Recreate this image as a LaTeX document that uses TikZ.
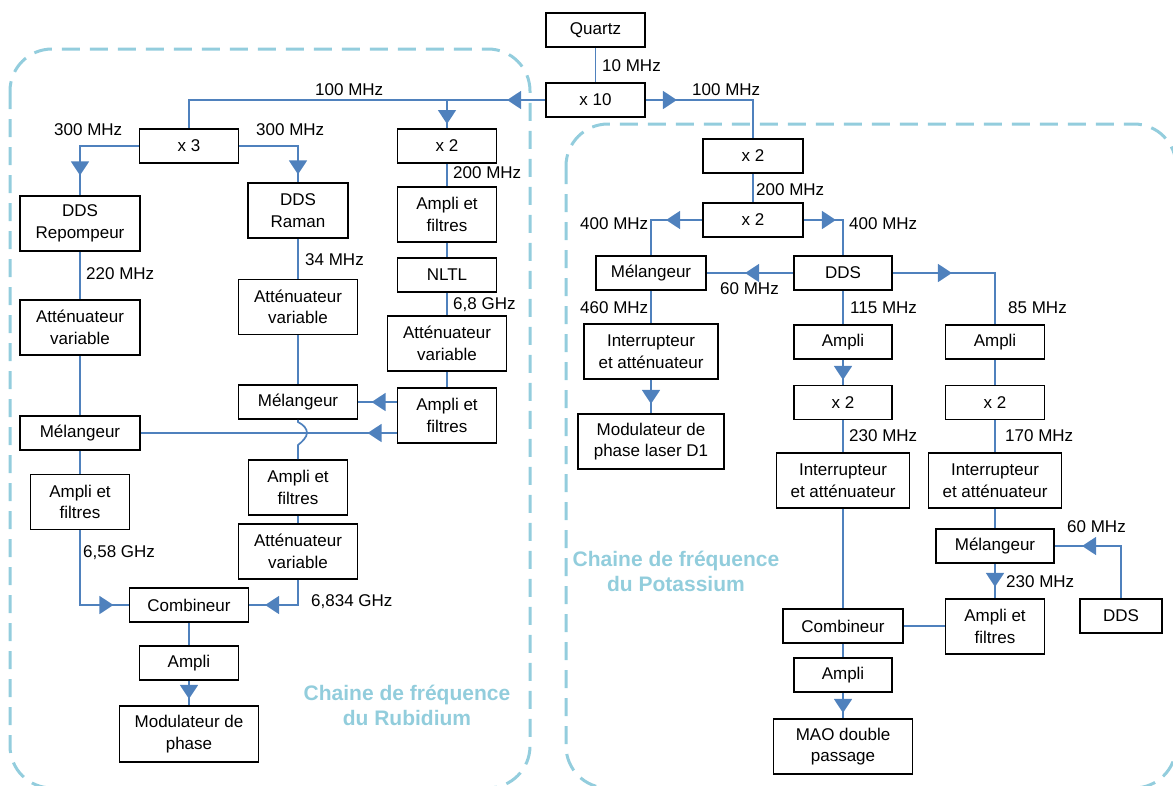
\documentclass[tikz,border=0pt]{standalone}
\usepackage{fontspec}
\setmainfont{Liberation Sans}
\usetikzlibrary{arrows.meta,decorations.markings,calc}
\definecolor{conncol}{RGB}{79,129,189}
\definecolor{dashcol}{RGB}{147,205,221}
\definecolor{titlecol}{RGB}{146,205,220}
\begin{document}
\begin{tikzpicture}[x=1pt,y=-1pt,
  blk/.style={draw=black, line width=1.8pt, align=center, inner sep=0pt, font=\fontsize{17}{21.5}\selectfont, fill=white},
  sz/.style 2 args={minimum width=#1pt, minimum height=#2pt},
  conn/.style={draw=conncol, line width=1.7pt},
  arrowat/.style={postaction={decorate}, decoration={markings, mark=at position #1 with {\arrow[conncol]{Triangle[width=18pt,length=14pt]}}}},
  lbl/.style={font=\fontsize{17}{21}\selectfont, inner sep=0pt, anchor=west},
  ttl/.style={font=\fontsize{21}{25}\selectfont\bfseries, text=titlecol, align=center, inner sep=0pt},
  grp/.style={draw=dashcol, line width=3pt, dash pattern=on 18pt off 10pt, rounded corners=42pt}
]
\useasboundingbox (0,0) rectangle (1173,785);
\clip (0,0) rectangle (1173,785);
% groups
\draw[grp] (10,49) rectangle (530,788);
\draw[grp] (566,124) rectangle (1176,788);
\node[ttl] (tRb) at (407,705) {Chaine de fréquence\\du Rubidium};
\node[ttl] (tK) at (676,571) {Chaine de fréquence\\du Potassium};
% top
\node[blk, sz={99}{34}] (quartz) at (595.5,30) {Quartz};
\node[blk, sz={99}{34}] (x10) at (595.5,100) {x 10};
% Rubidium
\node[blk, sz={99}{34}] (x3) at (189,146) {x 3};
\node[blk, sz={99}{34}] (x2a) at (447,146) {x 2};
\node[blk, sz={120}{55}] (drep) at (80,223.5) {DDS\\Repompeur};
\node[blk, sz={100}{55}] (draman) at (298,210.5) {DDS\\Raman};
\node[blk, sz={99}{55}] (afA) at (447,214.5) {Ampli et\\filtres};
\node[blk, sz={99}{34}] (nltl) at (447,275) {NLTL};
\node[blk, sz={119}{55}] (attR) at (447,343.5) {Atténuateur\\variable};
\node[blk, sz={99}{55}] (afB) at (447,415.5) {Ampli et\\filtres};
\node[blk, sz={120}{55}] (attL) at (80,327.5) {Atténuateur\\variable};
\node[blk, sz={119}{55}] (attM) at (298,307) {Atténuateur\\variable};
\node[blk, sz={119}{34}] (melB) at (298,402) {Mélangeur};
\node[blk, sz={120}{34}] (melA) at (80,433) {Mélangeur};
\node[blk, sz={99}{55}] (afL) at (80,502) {Ampli et\\filtres};
\node[blk, sz={99}{55}] (afM) at (298,487.5) {Ampli et\\filtres};
\node[blk, sz={119}{55}] (attML) at (298,551.5) {Atténuateur\\variable};
\node[blk, sz={119}{34}] (comb) at (189,605) {Combineur};
\node[blk, sz={99}{34}] (ampRb) at (189,663) {Ampli};
\node[blk, sz={139}{56}] (modph) at (189,734) {Modulateur de\\phase};
% Potassium
\node[blk, sz={100}{34}] (x2k) at (753,156) {x 2};
\node[blk, sz={100}{34}] (x2k2) at (753,220) {x 2};
\node[blk, sz={110}{34}] (melK) at (651,273) {Mélangeur};
\node[blk, sz={98}{34}] (ddsK) at (843,273) {DDS};
\node[blk, sz={134}{55}] (intL) at (651,351.5) {Interrupteur\\et atténuateur};
\node[blk, sz={146}{55}] (modD1) at (651,441.5) {Modulateur de\\phase laser D1};
\node[blk, sz={98}{34}] (ampMK) at (843,342) {Ampli};
\node[blk, sz={98}{34}] (x2mK) at (843,402.5) {x 2};
\node[blk, sz={133}{55}] (intM) at (843,480.5) {Interrupteur\\et atténuateur};
\node[blk, sz={99}{34}] (ampR) at (995,342) {Ampli};
\node[blk, sz={99}{34}] (x2R) at (995,402.5) {x 2};
\node[blk, sz={133}{55}] (intR) at (995,480.5) {Interrupteur\\et atténuateur};
\node[blk, sz={118}{34}] (melR) at (995,546) {Mélangeur};
\node[blk, sz={99}{55}] (afR) at (995,626.5) {Ampli et\\filtres};
\node[blk, sz={82}{34}] (ddsR) at (1121,616) {DDS};
\node[blk, sz={120}{34}] (combK) at (843,626) {Combineur};
\node[blk, sz={98}{34}] (ampK) at (843,675) {Ampli};
\node[blk, sz={139}{55}] (mao) at (843,746.5) {MAO double\\passage};
% connectors top
\draw[conn] (quartz) -- (x10);
\draw[conn, arrowat=38pt] (x10.west) -| (x3.north);
\coordinate (j1) at (447,100);
\draw[conn, arrowat=24pt] (j1) -- (x2a.north);
\draw[conn, arrowat=31pt] (x10.east) -| (x2k.north);
% Rubidium connectors
\draw[conn, arrowat=88pt] (x3.west) -| (drep.north);
\draw[conn, arrowat=87pt] (x3.east) -| (draman.north);
\draw[conn] (x2a) -- (afA);
\draw[conn] (afA) -- (nltl);
\draw[conn] (nltl) -- (attR);
\draw[conn] (attR) -- (afB);
\draw[conn, arrowat=25pt] (afB.west |- melB.east) -- (melB.east);
\draw[conn, arrowat=29pt] (afB.west |- melA.east) -- (melA.east);
\draw[conn] (drep) -- (attL);
\draw[conn] (attL) -- (melA);
\draw[conn] (melA) -- (afL);
\draw[conn, arrowat=108pt] (afL.south) |- (comb.west);
\draw[conn] (draman) -- (attM);
\draw[conn] (attM) -- (melB);
\draw[conn] (melB.south) -- (298,422) .. controls (304,425) and (307,429) .. (307,433) .. controls (307,437) and (302,442) .. (298,445) -- (afM.north);
\draw[conn] (afM) -- (attML);
\draw[conn, arrowat=58pt] (attML.south) |- (comb.east);
\draw[conn] (comb) -- (ampRb);
\draw[conn, arrowat=18pt] (ampRb.south) -- (modph.north);
% Potassium connectors
\draw[conn] (x2k) -- (x2k2);
\draw[conn, arrowat=36pt] (x2k2.west) -| (melK.north);
\draw[conn, arrowat=32pt] (x2k2.east) -| (ddsK.north);
\draw[conn, arrowat=48pt] (ddsK.west) -- (melK.east);
\draw[conn, arrowat=59pt] (ddsK.east) -| (ampR.north);
\draw[conn] (melK) -- (intL);
\draw[conn, arrowat=24pt] (intL.south) -- (modD1.north);
\draw[conn] (ddsK) -- (ampMK);
\draw[conn, arrowat=20pt] (ampMK.south) -- (x2mK.north);
\draw[conn] (x2mK) -- (intM);
\draw[conn] (intM) -- (combK);
\draw[conn] (ampR) -- (x2R);
\draw[conn] (x2R) -- (intR);
\draw[conn] (intR) -- (melR);
\draw[conn, arrowat=91pt] (ddsR.north) |- (melR.east);
\draw[conn, arrowat=23pt] (melR.south) -- (afR.north);
\draw[conn] (afR.west |- combK.east) -- (combK.east);
\draw[conn] (combK) -- (ampK);
\draw[conn, arrowat=20pt] (ampK.south) -- (mao.north);
% labels
\node[lbl] (l1) at (602,66) {10 MHz};
\node[lbl] (l2) at (315,90) {100 MHz};
\node[lbl] (l3) at (692,90) {100 MHz};
\node[lbl] (l4) at (54,130) {300 MHz};
\node[lbl] (l5) at (256,130) {300 MHz};
\node[lbl] (l6) at (453,173) {200 MHz};
\node[lbl] (l7) at (86,274) {220 MHz};
\node[lbl] (l8) at (305,260) {34 MHz};
\node[lbl] (l9) at (453,305) {6,8 GHz};
\node[lbl] (l10) at (83,553) {6,58 GHz};
\node[lbl] (l11) at (311,602) {6,834 GHz};
\node[lbl] (l12) at (756,190) {200 MHz};
\node[lbl] (l13) at (580,224) {400 MHz};
\node[lbl] (l14) at (849,224) {400 MHz};
\node[lbl] (l15) at (720,289) {60 MHz};
\node[lbl] (l16) at (580,308) {460 MHz};
\node[lbl] (l17) at (850,308) {115 MHz};
\node[lbl] (l18) at (1008,308) {85 MHz};
\node[lbl] (l19) at (849,436) {230 MHz};
\node[lbl] (l20) at (1005,436) {170 MHz};
\node[lbl] (l21) at (1067,527) {60 MHz};
\node[lbl] (l22) at (1006,582) {230 MHz};
\end{tikzpicture}
\end{document}
